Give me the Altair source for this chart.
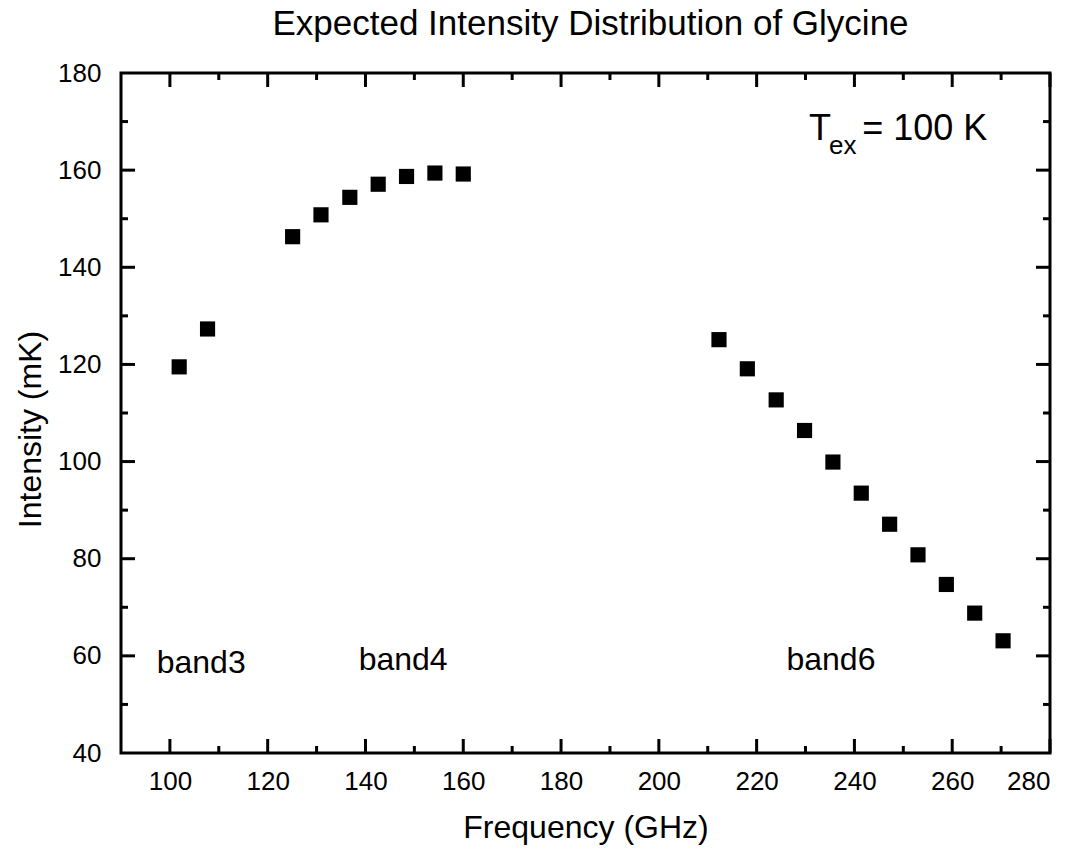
import altair as alt
import pandas as pd

# ---- data ----
band3_freq = [101.9, 107.7]
band3_int = [119.5, 127.3]
band4_freq = [125.1, 130.9, 136.8, 142.6, 148.4, 154.2, 160.0]
band4_int = [146.3, 150.8, 154.4, 157.1, 158.7, 159.4, 159.2]
band6_freq = [212.3, 218.1, 224.0, 229.8, 235.6, 241.4, 247.2, 253.0, 258.8, 264.6, 270.4]
band6_int = [125.1, 119.1, 112.7, 106.4, 99.9, 93.5, 87.1, 80.8, 74.7, 68.8, 63.1]

x_major = [100, 120, 140, 160, 180, 200, 220, 240, 260, 280]
x_minor = [110, 130, 150, 170, 190, 210, 230, 250, 270]
y_major = [60, 80, 100, 120, 140, 160]
y_minor = [50, 70, 90, 110, 130, 150, 170]
y_labels = [40, 60, 80, 100, 120, 140, 160, 180]

band_names = ["band3", "band4", "band6"]
band_x = [106.4, 147.7, 235.2]
band_y = [58.5, 59.2, 59.2]

FONT = "Liberation Sans"
W, H = 929, 680

pts = pd.DataFrame({
    "f": band3_freq + band4_freq + band6_freq,
    "i": band3_int + band4_int + band6_int,
})

xs = alt.Scale(domain=[90, 280], nice=False, zero=False)
ys = alt.Scale(domain=[40, 180], nice=False, zero=False)

x_axis = alt.Axis(values=x_major, title="Frequency (GHz)", grid=False, ticks=False, tickSize=0,
                  domain=False, labelFontSize=26, labelFont=FONT, labelPadding=15,
                  titleFontSize=32, titleFont=FONT, titleFontWeight="normal", titlePadding=18,
                  labelColor="black", titleColor="black")
y_axis = alt.Axis(values=y_labels, title="Intensity (mK)", grid=False, ticks=False, tickSize=0,
                  domain=False, labelFontSize=26, labelFont=FONT, labelPadding=20,
                  titleFontSize=32, titleFont=FONT, titleFontWeight="normal", titlePadding=10,
                  titleY=H / 2 + 16,
                  labelColor="black", titleColor="black")

points = alt.Chart(pts).mark_point(shape="square", filled=True, color="black", size=230, opacity=1).encode(
    x=alt.X("f:Q", scale=xs, axis=x_axis),
    y=alt.Y("i:Q", scale=ys, axis=y_axis),
)

layers = [points]

def xticks(vals, y0, y1):
    df = pd.DataFrame({"f": vals})
    return alt.Chart(df).mark_rule(color="black", strokeWidth=3).encode(
        x=alt.X("f:Q", scale=xs), y=alt.value(y0), y2=alt.value(y1))

def yticks(vals, x0, x1):
    df = pd.DataFrame({"i": vals})
    return alt.Chart(df).mark_rule(color="black", strokeWidth=3).encode(
        y=alt.Y("i:Q", scale=ys), x=alt.value(x0), x2=alt.value(x1))

layers += [
    xticks(x_major, H, H - 14), xticks(x_minor, H, H - 7),
    xticks(x_major, 0, 14), xticks(x_minor, 0, 7),
    yticks(y_major, 0, 14), yticks(y_minor, 0, 7),
    yticks(y_major, W, W - 14), yticks(y_minor, W, W - 7),
]

bands = pd.DataFrame({"f": band_x, "i": band_y, "t": band_names})
layers.append(alt.Chart(bands).mark_text(fontSize=32, font=FONT, color="black", baseline="middle").encode(
    x=alt.X("f:Q", scale=xs), y=alt.Y("i:Q", scale=ys), text="t:N"))

tex_main = pd.DataFrame({"f": [230.7, 241.6], "i": [166.2, 166.2], "t": ["T", "= 100 K"]})
layers.append(alt.Chart(tex_main).mark_text(fontSize=36, font=FONT, color="black", align="left",
                                            baseline="alphabetic").encode(
    x=alt.X("f:Q", scale=xs), y=alt.Y("i:Q", scale=ys), text="t:N"))
tex_sub = pd.DataFrame({"f": [234.8], "i": [163.4], "t": ["ex"]})
layers.append(alt.Chart(tex_sub).mark_text(fontSize=26, font=FONT, color="black", align="left",
                                           baseline="alphabetic").encode(
    x=alt.X("f:Q", scale=xs), y=alt.Y("i:Q", scale=ys), text="t:N"))

chart = alt.layer(*layers).properties(
    width=W, height=H,
    title=alt.TitleParams("Expected Intensity Distribution of Glycine", fontSize=35, font=FONT,
                          fontWeight="normal", color="black", anchor="middle", offset=18, dx=5),
    autosize=alt.AutoSizeParams(type="none"),
    padding={"left": 121, "top": 73, "right": 27, "bottom": 98},
).configure(
    background="white",
    view=alt.ViewConfig(stroke="black", strokeWidth=3),
)

chart.save("out.html", embed_options={"renderer": "svg", "actions": False})
